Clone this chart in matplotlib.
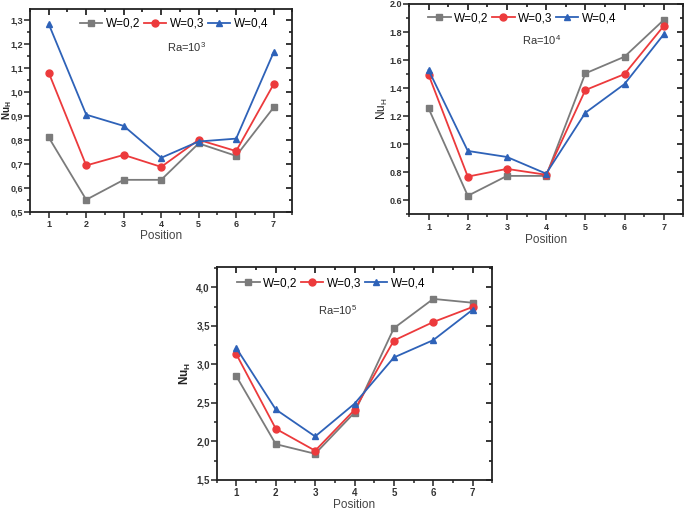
import numpy as np
import matplotlib.pyplot as plt
from matplotlib.ticker import MultipleLocator, FuncFormatter

plt.rcParams['font.family'] = ['Liberation Sans', 'DejaVu Sans']
plt.rcParams['mathtext.fontset'] = 'custom'
plt.rcParams['mathtext.rm'] = 'Liberation Sans'
plt.rcParams['mathtext.bf'] = 'Liberation Sans:bold'
plt.rcParams['mathtext.it'] = 'Liberation Sans:italic'

position = [1, 2, 3, 4, 5, 6, 7]
labels = ['W=0,2', 'W=0,3', 'W=0,4']

# Ra = 10^3
ra3_w02 = [0.81, 0.55, 0.633, 0.633, 0.785, 0.733, 0.935]
ra3_w03 = [1.08, 0.693, 0.737, 0.687, 0.80, 0.753, 1.032]
ra3_w04 = [1.283, 0.905, 0.858, 0.725, 0.793, 0.805, 1.165]

# Ra = 10^4
ra4_w02 = [1.255, 0.632, 0.774, 0.774, 1.505, 1.624, 1.886]
ra4_w03 = [1.495, 0.769, 0.824, 0.782, 1.386, 1.50, 1.843]
ra4_w04 = [1.529, 0.952, 0.909, 0.79, 1.224, 1.429, 1.783]

# Ra = 10^5
ra5_w02 = [2.845, 1.965, 1.84, 2.375, 3.47, 3.85, 3.80]
ra5_w03 = [3.13, 2.165, 1.88, 2.41, 3.31, 3.55, 3.745]
ra5_w04 = [3.21, 2.415, 2.065, 2.49, 3.09, 3.315, 3.71]

colors = ['#7b7b7b', '#ec3a3c', '#2e62b8']
markers = ['s', 'o', '^']

fig = plt.figure(figsize=(6.85, 5.11), dpi=100)


def comma(v, pos):
    return ('%.1f' % v).replace('.', ',')


def panel(rect, series, ylim, ymaj, ymin, ylabel, ra, leg_xy, ra_xy,
          use_comma, ylab_x, xlab_y, tsize=7, ylsize=8.5):
    ax = fig.add_axes(rect)
    for s, c, m, lab in zip(series, colors, markers, labels):
        ax.plot(position, s, color=c, marker=m, ms=5, lw=1.3, label=lab)
    ax.set_xlim(0.5, 7.5)
    ax.set_ylim(*ylim)
    ax.xaxis.set_major_locator(MultipleLocator(1))
    ax.xaxis.set_minor_locator(MultipleLocator(0.5))
    ax.yaxis.set_major_locator(MultipleLocator(ymaj))
    ax.yaxis.set_minor_locator(MultipleLocator(ymin))
    if use_comma:
        ax.yaxis.set_major_formatter(FuncFormatter(comma))
    else:
        ax.yaxis.set_major_formatter(FuncFormatter(lambda v, p: '%.1f' % v))
    for sp in ax.spines.values():
        sp.set_linewidth(1.3)
        sp.set_color('#222222')
    ax.tick_params(which='both', direction='out', width=1.1, color='#222222',
                   labelsize=tsize)
    ax.tick_params(which='major', length=4, pad=2)
    ax.tick_params(axis='y', which='major', pad=1)
    ax.tick_params(which='minor', length=2)
    for t in ax.get_xticklabels() + ax.get_yticklabels():
        t.set_fontweight('bold')
        t.set_color('#333333')
    # mirrored ticks on top and right, pointing inward
    sec_x = ax.secondary_xaxis('top')
    sec_x.xaxis.set_major_locator(MultipleLocator(1))
    sec_x.xaxis.set_minor_locator(MultipleLocator(0.5))
    sec_x.tick_params(which='both', direction='in', labeltop=False, width=1.1)
    sec_x.tick_params(which='major', length=4)
    sec_x.tick_params(which='minor', length=2)
    sec_y = ax.secondary_yaxis('right')
    sec_y.yaxis.set_major_locator(MultipleLocator(ymaj))
    sec_y.yaxis.set_minor_locator(MultipleLocator(ymin))
    sec_y.tick_params(which='both', direction='in', labelright=False, width=1.1)
    sec_y.tick_params(which='major', length=4)
    sec_y.tick_params(which='minor', length=2)
    sec_x.spines['top'].set_visible(False)
    sec_y.spines['right'].set_visible(False)

    ax.set_xlabel('Position', fontsize=8.5, color='#444444')
    ax.xaxis.set_label_coords(0.5, xlab_y)
    ax.set_ylabel(ylabel, fontsize=ylsize, color='#222222')
    ax.yaxis.set_label_coords(ylab_x, 0.5)
    ax.legend(loc='center left', bbox_to_anchor=leg_xy, ncol=3, frameon=False,
              fontsize=8.5, handlelength=1.9, handletextpad=0.3,
              columnspacing=0.3, borderpad=0, borderaxespad=0)
    ax.text(ra_xy[0], ra_xy[1], ra, transform=ax.transAxes, fontsize=8,
            color='#333333', va='center', ha='left')
    return ax


panel([0.0438, 0.5857, 0.383, 0.3967], [ra3_w02, ra3_w03, ra3_w04],
      (0.5, 1.346), 0.1, 0.05, r'$\mathbf{Nu_H}$', r'Ra=10$^3$',
      (0.19, 0.926), (0.522, 0.81), True, -0.062, -0.09, 6.5, 7)

panel([0.5971, 0.5806, 0.4004, 0.4116], [ra4_w02, ra4_w03, ra4_w04],
      (0.5, 2.0), 0.2, 0.1, r'$\mathrm{Nu_H}$', r'Ra=10$^4$',
      (0.07, 0.933), (0.412, 0.829), False, -0.068, -0.094, 6.5, 8.5)

panel([0.3164, 0.0607, 0.4023, 0.4162], [ra5_w02, ra5_w03, ra5_w04],
      (1.5, 4.26), 0.5, 0.25, r'$\mathbf{Nu_H}$', r'Ra=10$^5$',
      (0.074, 0.926), (0.368, 0.80), True, -0.085, -0.089, 7, 8.5)

fig.savefig('out.png', dpi=100)
